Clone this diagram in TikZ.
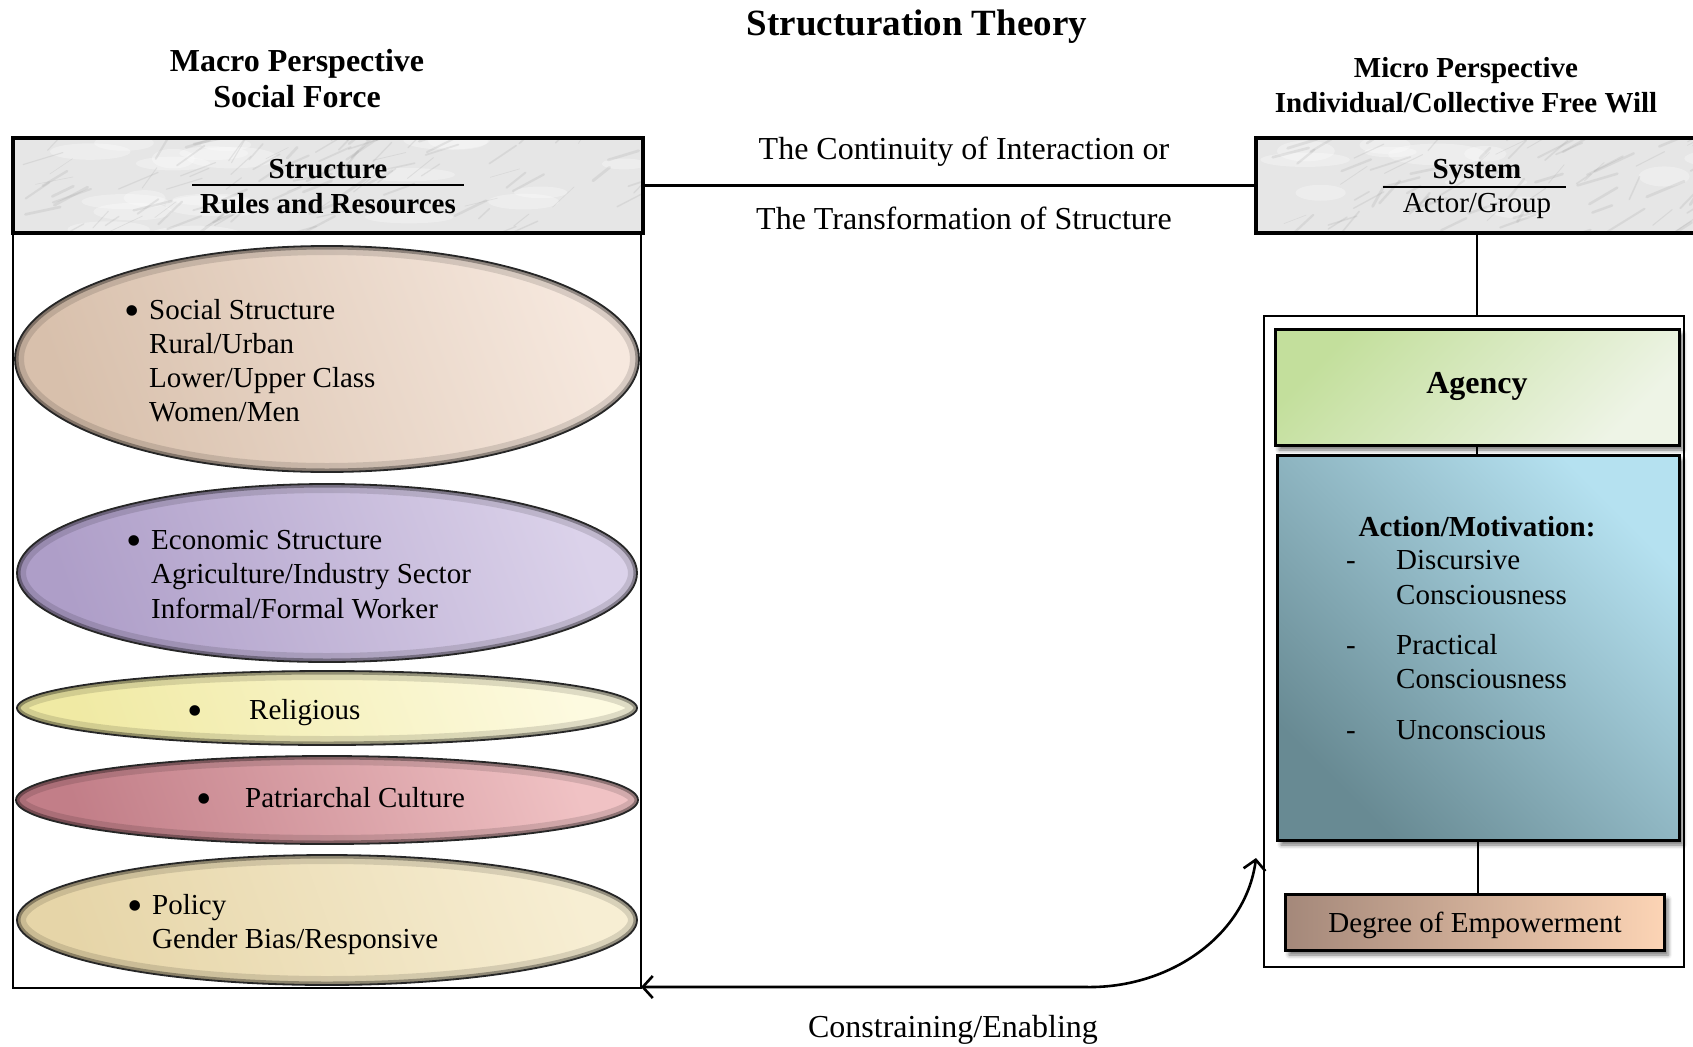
\documentclass[tikz,border=0pt]{standalone}
\usepackage{fontspec}
\setmainfont{Liberation Serif}
\usetikzlibrary{shapes.geometric, shadows.blur, arrows.meta, calc}

% fills
\definecolor{marbleBase}{HTML}{E6E6E6}
\definecolor{socL}{HTML}{D8C0AC}\definecolor{socH}{HTML}{F6E8DE}
\definecolor{ecoL}{HTML}{AE9EC8}\definecolor{ecoH}{HTML}{DBD2EA}
\definecolor{relL}{HTML}{F0EAA4}\definecolor{relH}{HTML}{FDFAE0}
\definecolor{patL}{HTML}{C27E88}\definecolor{patH}{HTML}{F0C2C4}
\definecolor{polL}{HTML}{E6D5A8}\definecolor{polH}{HTML}{F7EED3}
\definecolor{agD}{HTML}{C3DF9C}\definecolor{agL}{HTML}{EEF4E6}
\definecolor{acD}{HTML}{688A93}\definecolor{acL}{HTML}{B5E1F0}
\definecolor{deD}{HTML}{A4887A}\definecolor{deL}{HTML}{FCD4B5}

\begin{document}
\begin{tikzpicture}[x=1pt, y=-1pt,
  txt/.style={inner sep=0pt, font=\fontsize{29}{34}\selectfont},
  ltxt/.style={inner sep=0pt, font=\fontsize{32}{36}\selectfont},
  btxt/.style={inner sep=0pt, font=\fontsize{29}{34}\selectfont\bfseries},
  dot/.style={inner sep=0pt, font=\fontsize{44}{44}\selectfont},
  marble/.style={draw=black, line width=3.2pt, fill=marbleBase, inner sep=0pt, outer sep=0pt,
    path picture={
      \foreach \k in {1,...,22}{
        \fill[white, opacity=.3] ($(path picture bounding box.north west)+({rnd*650},{rnd*100})$)
          ellipse [x radius={20pt+30pt*rnd}, y radius={5pt+6pt*rnd}];
      }
      \foreach \k in {1,...,110}{
        \pgfmathsetmacro\lw{0.5+2.4*rnd}
        \draw[gray!75, opacity=.2, line width=\lw pt, line cap=round]
          ($(path picture bounding box.north west)+({rnd*650},{rnd*100})$) -- ++({10+rnd*30},{-7-rnd*16});
      }
    }},
  frame/.style={draw=black, line width=2pt, inner sep=0pt, outer sep=0pt},
  panel/.style={draw=black, line width=3pt, inner sep=0pt, outer sep=0pt,
    blur shadow={shadow xshift=4pt, shadow yshift=-5pt, shadow blur radius=4pt, shadow opacity=55}},
  pill/.style n args={4}{ellipse, minimum width=#1pt, minimum height=#2pt, inner sep=0pt, outer sep=0pt,
    draw=black!85, line width=1.8pt, top color=#4, bottom color=#3, shading angle=-70,
    path picture={
      \draw[black, opacity=.12, line width=18pt] (path picture bounding box.center)
        ellipse [x radius={0.5*#1pt}, y radius={0.5*#2pt}];
      \draw[black, opacity=.32, line width=7pt] (path picture bounding box.center)
        ellipse [x radius={0.5*#1pt}, y radius={0.5*#2pt}];
    }},
  link/.style={line width=2.4pt},
  flowline/.style={line width=2.6pt,
    {Straight Barb[length=10pt,width=22pt]}-{Straight Barb[length=10pt,width=22pt]}}
]
\useasboundingbox (0,0) rectangle (1693,1046);
\pgfmathsetseed{11}

% ---------- macro side ----------
\node[frame, minimum width=628pt, minimum height=755pt] (lcont) at (327,610.5) {};
\node[marble, minimum width=630pt, minimum height=95pt] (structbox) at (328,185.5) {};

\node[pill={624}{226}{socL}{socH}] (social) at (327,359) {};
\node[pill={620}{178}{ecoL}{ecoH}] (econ) at (327,573) {};
\node[pill={620}{74}{relL}{relH}] (relig) at (327,708) {};
\node[pill={622}{88}{patL}{patH}] (patri) at (327,800) {};
\node[pill={620}{130}{polL}{polH}] (policy) at (327,920) {};

% ---------- micro side ----------
\node[frame, minimum width=420pt, minimum height=651pt] (rcont) at (1474,641.5) {};
\node[marble, minimum width=444pt, minimum height=95pt] (sysbox) at (1478,185.5) {};
\node[panel, minimum width=404pt, minimum height=116pt,
      top color=agD, bottom color=agL, shading angle=45] (agency) at (1477,387) {};
\node[panel, minimum width=402pt, minimum height=385pt,
      top color=acL, bottom color=acD, shading angle=-45] (action) at (1478,647.5) {};
\node[panel, minimum width=379pt, minimum height=56pt,
      left color=deD, right color=deL] (degree) at (1474.5,922) {};

% ---------- connectors ----------
\draw[link] (structbox.east) -- (sysbox.west);
\draw[link] (sysbox.south -| agency.north) -- (rcont.north -| agency.north);
\draw[link] (agency.south) -- (action.north -| agency.south);
\draw[link] (action.south) -- (degree.north -| action.south);

\coordinate (bend) at (1085,987);
\coordinate (tipR) at (1256,858);
\draw[flowline] (tipR) .. controls (1246,935) and (1170,989) .. (bend) -- (lcont.east |- bend);

% ---------- headings ----------
\node[inner sep=0pt, anchor=base, font=\fontsize{37}{44}\selectfont\bfseries] (title) at (917,36) {Structuration Theory};
\node[inner sep=0pt, anchor=base, font=\fontsize{32}{36}\selectfont\bfseries] (macro1) at (297,72) {Macro Perspective};
\node[inner sep=0pt, anchor=base, font=\fontsize{32}{36}\selectfont\bfseries] (macro2) at (297,108) {Social Force};
\node[btxt, anchor=base] (micro1) at (1466,78) {Micro Perspective};
\node[btxt, anchor=base] (micro2) at (1466,113) {Individual/Collective Free Will};

% header box texts
\node[btxt, anchor=base] (structT) at (328,178) {Structure};
\draw[line width=1.6pt] (192,185) -- (464,185);
\node[btxt, anchor=base] (structR) at (328,213) {Rules and Resources};
\node[btxt, anchor=base] (sysT) at (1477,178) {System};
\draw[line width=1.6pt] (1383,187) -- (1566,187);
\node[txt, anchor=base] (sysA) at (1477,212) {Actor/Group};

% link labels
\node[ltxt, anchor=base] (cont1) at (964,159) {The Continuity of Interaction or};
\node[ltxt, anchor=base] (cont2) at (964,229) {The Transformation of Structure};
\node[ltxt, anchor=base] (constr) at (953,1037) {Constraining/Enabling};

% ---------- ellipse texts ----------
\node[dot, anchor=base] (b1) at (132,325) {\textbullet};
\node[txt, anchor=base west] (s1) at (149,319) {Social Structure};
\node[txt, anchor=base west] (s2) at (149,353) {Rural/Urban};
\node[txt, anchor=base west] (s3) at (149,387) {Lower/Upper Class};
\node[txt, anchor=base west] (s4) at (149,421) {Women/Men};

\node[dot, anchor=base] (b2) at (134,555) {\textbullet};
\node[txt, anchor=base west] (e1) at (151,549) {Economic Structure};
\node[txt, anchor=base west] (e2) at (151,583) {Agriculture/Industry Sector};
\node[txt, anchor=base west] (e3) at (151,618) {Informal/Formal Worker};

\node[dot, anchor=base] (b3) at (195,725) {\textbullet};
\node[txt, anchor=base west] (r1) at (249,719) {Religious};

\node[dot, anchor=base] (b4) at (204,813) {\textbullet};
\node[txt, anchor=base west] (p1) at (245,807) {Patriarchal Culture};

\node[dot, anchor=base] (b5) at (135,920) {\textbullet};
\node[txt, anchor=base west] (o1) at (152,914) {Policy};
\node[txt, anchor=base west] (o2) at (152,948) {Gender Bias/Responsive};

% ---------- panel texts ----------
\node[inner sep=0pt, anchor=base, font=\fontsize{32}{36}\selectfont\bfseries] (agT) at (1477,393) {Agency};
\node[btxt, anchor=base] (acT) at (1477,536) {Action/Motivation:};
\node[txt, anchor=base] (d1) at (1351,569) {-};
\node[txt, anchor=base west] (a1) at (1396,569) {Discursive};
\node[txt, anchor=base west] (a2) at (1396,604) {Consciousness};
\node[txt, anchor=base] (d2) at (1351,654) {-};
\node[txt, anchor=base west] (a3) at (1396,654) {Practical};
\node[txt, anchor=base west] (a4) at (1396,688) {Consciousness};
\node[txt, anchor=base] (d3) at (1351,739) {-};
\node[txt, anchor=base west] (a5) at (1396,739) {Unconscious};
\node[txt, anchor=base] (degT) at (1475,932) {Degree of Empowerment};
\end{tikzpicture}
\end{document}
